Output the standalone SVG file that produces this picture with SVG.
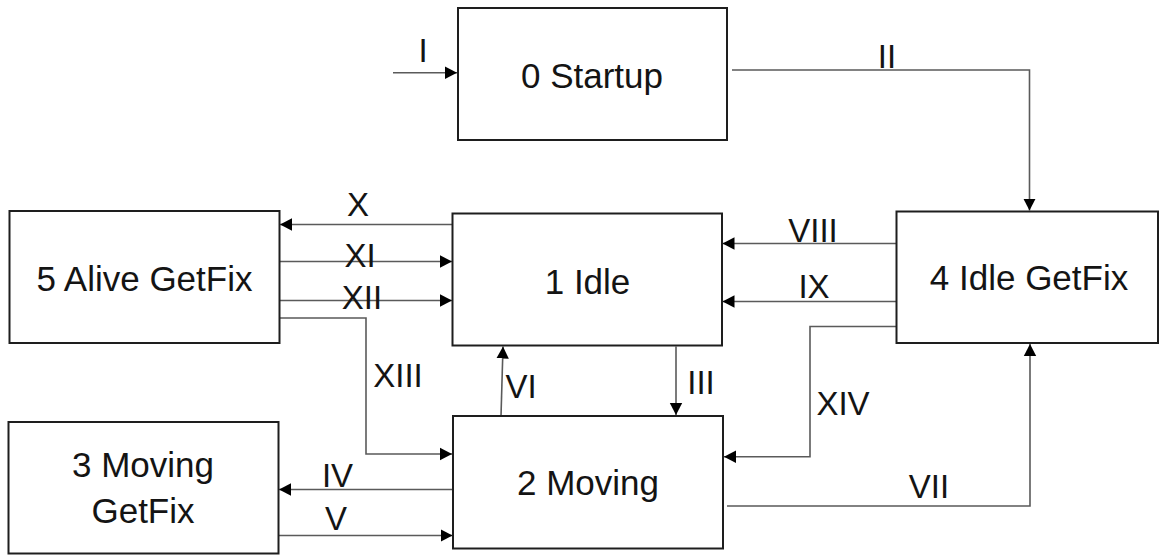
<svg xmlns="http://www.w3.org/2000/svg" width="1160" height="556" viewBox="0 0 1160 556">
<style>
.box{fill:#fff;stroke:#1e1e1e;stroke-width:2}
.nt{font-family:"Liberation Sans",Arial,sans-serif;font-size:35px;fill:#141414;text-anchor:middle}
.lb{font-family:"Liberation Sans",Arial,sans-serif;font-size:33px;fill:#141414;text-anchor:middle}
.c{fill:none;stroke:#5a5a5a;stroke-width:1.6;marker-end:url(#ah)}
</style>
<defs>
<marker id="ah" markerUnits="userSpaceOnUse" markerWidth="14" markerHeight="14" refX="12" refY="7" orient="auto">
<path d="M0,0.8 L12,7 L0,13.2 Z" fill="#000"/>
</marker>
</defs>
<rect width="1160" height="556" fill="#fff"/>
<g id="connectors">
<path class="c" d="M393,72.7 H457"/>
<path class="c" d="M732,70 H1029.5 V210.5"/>
<path class="c" d="M452,224.5 H280"/>
<path class="c" d="M280,261.5 H452"/>
<path class="c" d="M280,300.5 H452"/>
<path class="c" d="M279,318 H366 V454 H452"/>
<path class="c" d="M452.5,489.5 H279"/>
<path class="c" d="M279,535.5 H452.5"/>
<path class="c" d="M501,416 L503,346.5"/>
<path class="c" d="M676,346.5 V415"/>
<path class="c" d="M727,506 H1030 V344"/>
<path class="c" d="M896,243.5 H722.5"/>
<path class="c" d="M896,301.5 H722.5"/>
<path class="c" d="M896,326.5 H810 V456.7 H724"/>
<text class="lb" x="423" y="62">I</text>
<text class="lb" x="887" y="68">II</text>
<text class="lb" x="358" y="216">X</text>
<text class="lb" x="360" y="266.5">XI</text>
<text class="lb" x="362" y="309">XII</text>
<text class="lb" x="398" y="386.5">XIII</text>
<text class="lb" x="337.5" y="486.5">IV</text>
<text class="lb" x="336" y="530">V</text>
<text class="lb" x="521" y="398">VI</text>
<text class="lb" x="701" y="394">III</text>
<text class="lb" x="929" y="498">VII</text>
<text class="lb" x="813" y="241.5">VIII</text>
<text class="lb" x="814" y="298">IX</text>
<text class="lb" x="843" y="415">XIV</text>
</g>
<g id="node0">
<rect class="box" x="458" y="8" width="269" height="132"/>
<text class="nt" x="592" y="88">0 Startup</text>
</g>
<g id="node5">
<rect class="box" x="9.5" y="211" width="270" height="132"/>
<text class="nt" x="144.5" y="290.5">5 Alive GetFix</text>
</g>
<g id="node1">
<rect class="box" x="452.5" y="213.5" width="269.5" height="132"/>
<text class="nt" x="587.5" y="294">1 Idle</text>
</g>
<g id="node4">
<rect class="box" x="896.5" y="211.5" width="261.5" height="131.5"/>
<text class="nt" x="1029" y="290">4 Idle GetFix</text>
</g>
<g id="node3">
<rect class="box" x="8.5" y="422" width="270" height="131.5"/>
<text class="nt" x="143" y="476.5">3 Moving</text>
<text class="nt" x="143" y="523">GetFix</text>
</g>
<g id="node2">
<rect class="box" x="453" y="416" width="270" height="132.5"/>
<text class="nt" x="588" y="495">2 Moving</text>
</g>
</svg>
